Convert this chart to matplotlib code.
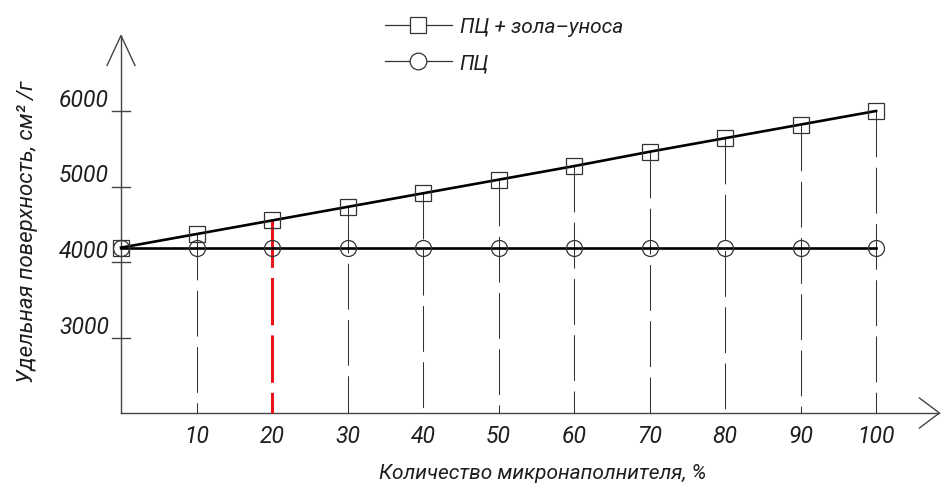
import numpy as np
import matplotlib
matplotlib.use('Agg')
import matplotlib.pyplot as plt
from matplotlib.lines import Line2D

# Data
filler_pct = [0, 10, 20, 30, 40, 50, 60, 70, 80, 90, 100]
pc_ash = [4190, 4370, 4550, 4730, 4910, 5090, 5270, 5460, 5640, 5820, 6000]
pc_only = [4190, 4190, 4190, 4190, 4190, 4190, 4190, 4190, 4190, 4190, 4190]
x_ticks = [10, 20, 30, 40, 50, 60, 70, 80, 90, 100]
y_ticks = [3000, 4000, 5000, 6000]
highlight = 20
labels = ['ПЦ + зола–уноса', 'ПЦ']
xlabel = 'Количество микронаполнителя, %'
ylabel = 'Удельная поверхность, см² /г'

# Layout: the drawing is done on one axes that fills the figure,
# scaled so one data unit maps to a fixed number of pixels
W, H, DPI = 941, 485, 100
x0_px, px_per_x = 121, 7.55
y0_px, px_per_y = 263, 0.0755     # pixel row of 4000
y_base, y_top, x_tip = 2000, 7000, 108.4

fonts = ['Roboto', 'DejaVu Sans']
fs_num = 16.5
fs_txt = 15
ink = '#1e1e1e'
axc = '#444444'

fig = plt.figure(figsize=(W / DPI, H / DPI), dpi=DPI)
ax = fig.add_axes([0, 0, 1, 1])
ax.axis('off')
ax.set_xlim(-x0_px / px_per_x, (W - x0_px) / px_per_x)
ax.set_ylim(4000 - (H - y0_px) / px_per_y, 4000 + y0_px / px_per_y)

def dx(px):
    return px / px_per_x

def dy(px):
    return px / px_per_y

# axes with open arrow heads
ax.plot([0, 0], [y_base, y_top], color=axc, lw=1.0, clip_on=False)
ax.plot([0, x_tip], [y_base, y_base], color=axc, lw=1.0, clip_on=False)
ax.plot([-dx(14), 0, dx(14)], [y_top - dy(30), y_top, y_top - dy(30)],
        color=axc, lw=1.0, clip_on=False)
ax.plot([x_tip - dx(20), x_tip, x_tip - dx(20)],
        [y_base + dy(15), y_base, y_base - dy(15)],
        color=axc, lw=1.0, clip_on=False)

# y ticks and labels (label sits above the tick mark)
for t in y_ticks:
    ax.plot([-dx(9), dx(9)], [t, t], color=axc, lw=1.0)
    ax.text(-dx(12), t + dy(5), str(t), ha='right', va='baseline',
            fontsize=fs_num, style='italic', family=fonts, color=ink)

# x tick labels
for t in x_ticks:
    ax.text(t, 4000 - dy(180), str(t), ha='center', va='baseline',
            fontsize=fs_num, style='italic', family=fonts, color=ink)

# projection lines from the upper curve down to the x axis
for x, v in zip(filler_pct, pc_ash):
    if x not in x_ticks:
        continue
    if x == highlight:
        ax.plot([x, x], [v, y_base], color='#e8141c', lw=2.2,
                linestyle=(0, (15.5, 3.3)), zorder=2)
    else:
        ax.plot([x, x], [v, y_base], color='#333333', lw=0.75,
                linestyle=(0, (44, 10)), zorder=2)

# curves
ax.plot(filler_pct, pc_ash, color='black', lw=1.9, zorder=3)
ax.plot(filler_pct, pc_only, color='black', lw=1.9, zorder=3)
ax.plot(filler_pct, pc_ash, ls='none', marker='s', ms=11, mfc='none',
        mec='#333333', mew=0.9, zorder=4)
ax.plot(filler_pct, pc_only, ls='none', marker='o', ms=11.5, mfc='none',
        mec='#333333', mew=0.9, zorder=4)

# axis titles
ax.text(55.9, 4000 - dy(216), xlabel, ha='center', va='baseline',
        fontsize=fs_txt, style='italic', family=fonts, color=ink)
ax.text(-dx(94), 4000 + dy(31), ylabel, ha='center', va='center',
        rotation=90, fontsize=16, style='italic', family=fonts, color=ink)

# legend
handles = [
    Line2D([], [], color='#333333', lw=0.9, marker='s', ms=11.5,
           mfc='white', mec='#333333', mew=0.9),
    Line2D([], [], color='#333333', lw=0.9, marker='o', ms=12,
           mfc='white', mec='#333333', mew=0.9),
]
leg = ax.legend(handles, labels, loc='upper left',
                bbox_to_anchor=(385 / W, 1 - 18 / H),
                bbox_transform=fig.transFigure, frameon=False,
                handlelength=3.2, handletextpad=0.38, borderpad=0,
                borderaxespad=0, labelspacing=0.82,
                prop={'family': fonts, 'style': 'italic', 'size': fs_txt})
for txt in leg.get_texts():
    txt.set_color(ink)

fig.savefig('out.png', dpi=DPI, facecolor='white')
